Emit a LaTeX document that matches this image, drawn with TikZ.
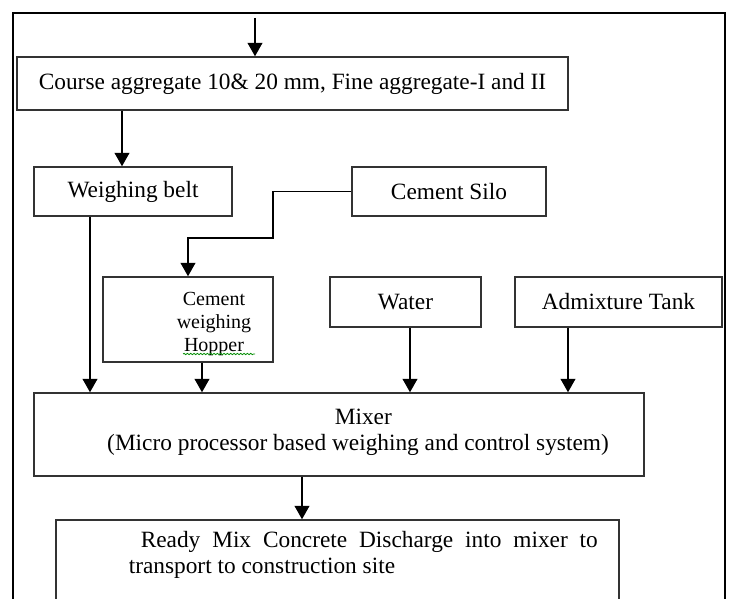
\documentclass[tikz,border=0pt]{standalone}
\usepackage{fontspec}
\setmainfont{Liberation Serif}
\usepackage{tikz}
\usetikzlibrary{arrows.meta,decorations.pathmorphing}
\tikzset{blk/.style={rectangle,draw=black!80,line width=1.1pt,inner sep=0pt,font=\fontsize{17.5}{21}\selectfont}}
\tikzset{txt/.style={inner sep=0pt,align=center}}

\begin{document}
\begin{tikzpicture}[x=0.75pt,y=-0.75pt,>={Triangle[width=11pt,length=10pt]},line width=1.2pt]
        \clip (0,0) rectangle (729,599);
        % outer frame
        \draw[line width=2.2pt] (13,640) -- (13,13) -- (725,13) -- (725,640);

        \node[blk,minimum width=413.25pt,minimum height=39.75pt] (agg)at (292.5,83.5) {Course aggregate 10\& 20 mm, Fine aggregate-I and II};
        \node[blk,minimum width=148.5pt,minimum height=36.75pt] (belt)at (133,191.5) {Weighing belt};
        \node[blk,minimum width=145.5pt,minimum height=36.75pt] (silo)at (449,191.5) {Cement Silo};
        \node[blk,minimum width=127.5pt,minimum height=63.75pt] (hop)at (188,319.5) {};
        \node[blk,minimum width=113.25pt,minimum height=37.5pt] (water)at (405.5,302) {Water};
        \node[blk,minimum width=155.25pt,minimum height=37.5pt] (admix)at (618.5,302) {Admixture Tank};
        \node[blk,minimum width=457.5pt,minimum height=62.25pt] (mix)at (339,434.5) {};
        \node[blk,minimum width=422.25pt,minimum height=75pt] (rmc)at (337.5,570) {};

        \node[txt,font=\fontsize{15}{17.25}\selectfont] (hoptxt)at (214,324) {Cement\\weighing\\Hopper};
        \node[txt,font=\fontsize{17.5}{19.5}\selectfont] (mixtxt)at (358,432) {\hspace*{8pt}Mixer\\(Micro processor based weighing and control system)};
        \node[txt,anchor=north west,text width=351.75pt,align=justify,font=\fontsize{17.5}{19}\selectfont] (rmctxt)at (128,531) {\hspace*{9pt}Ready Mix Concrete Discharge into mixer to transport to construction site};

        % spell-check squiggle
        \coordinate (w1) at (183,354);
        \coordinate (w2) at (255,354);
        \draw[green!55!black,line width=0.6pt,decorate,decoration={snake,amplitude=0.5pt,segment length=2.5pt}] (w1) -- (w2);

        \coordinate (in) at (255,18);
        \coordinate (c1) at (122,0);
        \coordinate (c2) at (90,0);
        \coordinate (c3) at (202,0);
        \coordinate (c4) at (410,0);
        \coordinate (c5) at (568,0);
        \coordinate (c6) at (302,0);
        \coordinate (bend) at (273,238);

        \draw [->] (in) -- (agg.north -| in);
        \draw [->] (agg.south -| c1) -- (belt.north -| c1);
        \draw [->] (silo.west) -| (bend) -| (hop.north);
        \draw [->] (belt.south -| c2) -- (mix.north -| c2);
        \draw [->] (hop.south -| c3) -- (mix.north -| c3);
        \draw [->] (water.south -| c4) -- (mix.north -| c4);
        \draw [->] (admix.south -| c5) -- (mix.north -| c5);
        \draw [->] (mix.south -| c6) -- (rmc.north -| c6);
    \end{tikzpicture}
\end{document}
